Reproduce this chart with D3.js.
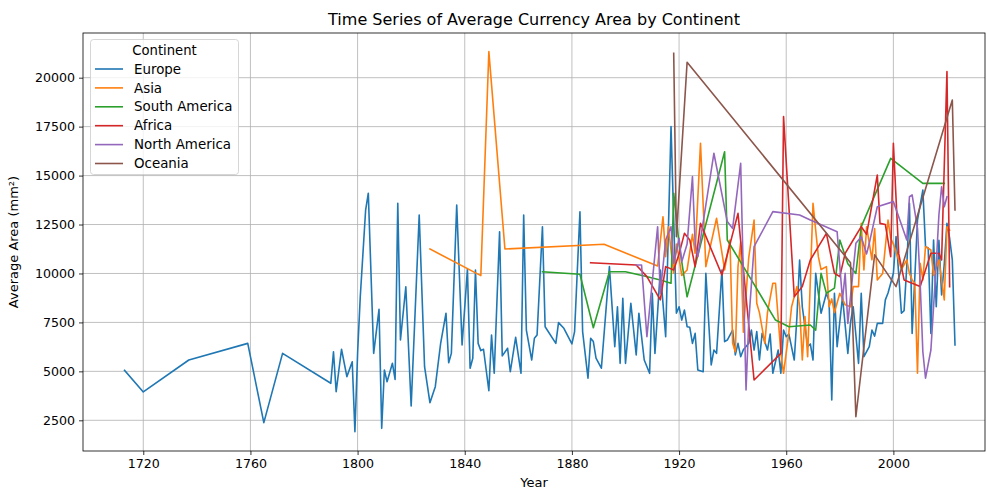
<!DOCTYPE html>
<html>
<head>
<meta charset="utf-8">
<script src="https://cdn.jsdelivr.net/npm/d3@7"></script>
<style>
  body { margin: 0; background: #ffffff; }
  svg { display: block; font-family: "DejaVu Sans", sans-serif; }
</style>
</head>
<body>
<div class="chart"></div>
<script>
/* Data, one pair of arrays per continent */
var CONTINENTS = ["Europe", "Asia", "South America", "Africa", "North America", "Oceania"];
var COLOR_TABLE = ["#1f77b4", "#ff7f0e", "#2ca02c", "#d62728", "#9467bd", "#8c564b"];

var europeYears = [1713, 1720, 1737, 1759, 1765, 1772, 1790, 1791, 1792, 1794, 1796, 1798, 1799, 1800,
  1801, 1803, 1804, 1806, 1808, 1809, 1810, 1811, 1813, 1814, 1815, 1816, 1818, 1820, 1823, 1825,
  1827, 1829, 1831, 1833, 1834, 1835, 1837, 1839, 1841, 1842, 1843, 1844, 1845, 1846, 1847, 1849,
  1850, 1851, 1853, 1854, 1856, 1857, 1859, 1861, 1862, 1863, 1865, 1866, 1867, 1869, 1870, 1874,
  1875, 1877, 1880, 1881, 1883, 1884, 1886, 1887, 1888, 1889, 1891, 1894, 1896, 1897, 1898, 1899,
  1900, 1902, 1904, 1905, 1907, 1909, 1910, 1911, 1913, 1915, 1917, 1919, 1920, 1921, 1922, 1923,
  1924, 1925, 1926, 1927, 1929, 1930, 1932, 1933, 1934, 1936, 1937, 1938, 1940, 1941, 1942, 1943,
  1944, 1946, 1947, 1948, 1949, 1950, 1951, 1953, 1954, 1955, 1957, 1958, 1959, 1960, 1961, 1963,
  1964, 1965, 1966, 1968, 1969, 1970, 1971, 1973, 1975, 1976, 1977, 1978, 1979, 1981, 1983, 1984,
  1985, 1987, 1988, 1989, 1991, 1992, 1993, 1994, 1996, 1997, 1998, 1999, 2000, 2001, 2003, 2004,
  2005, 2006, 2007, 2008, 2009, 2010, 2011, 2012, 2013, 2014, 2015, 2016, 2017, 2018, 2019, 2020,
  2021, 2022, 2023];
var europeValues = [5050, 3950, 5580, 6430, 2380, 5920, 4390, 6000, 3960, 6130, 4730, 5490, 1920, 5920,
  8810, 13240, 14100, 5920, 8170, 2090, 5070, 4470, 5410, 4590, 13580, 6600, 9320, 3230, 12990, 5240,
  3400, 4220, 6430, 7970, 5440, 5920, 13500, 6350, 10210, 5160, 5670, 10180, 6430, 6060, 6130, 4010,
  6860, 4900, 12130, 5790, 6180, 4980, 6740, 4900, 12990, 7110, 5580, 6690, 6860, 12390, 7280, 6430,
  7490, 7200, 6400, 7030, 13150, 7030, 4650, 6690, 6520, 5670, 5160, 10350, 6260, 8300, 5410, 8730,
  5410, 8480, 5840, 7970, 5580, 4900, 8990, 5920, 10180, 6770, 17500, 7970, 8300, 7620, 8130, 7280,
  7250, 6430, 6940, 5070, 4980, 10010, 5330, 6090, 5920, 10180, 6520, 6600, 7110, 5840, 6430, 5750,
  6100, 6430, 7110, 6090, 7030, 5580, 6940, 6090, 6900, 4900, 6090, 4900, 7110, 6770, 6900, 5580,
  7790, 10690, 8300, 6260, 6400, 5580, 10010, 7970, 8990, 8600, 3540, 8990, 6260, 8810, 5920, 7500,
  8300, 5410, 8990, 5750, 6260, 7110, 6800, 7450, 7450, 8650, 9000, 9500, 10010, 11880, 7970, 8100,
  10350, 13580, 6940, 9800, 12730, 13500, 14260, 11370, 11300, 6940, 11710, 8300, 11700, 8900, 10500, 12560,
  11800, 10690, 6350];

var asiaYears = [1827, 1846, 1849, 1855, 1892, 1912, 1914, 1915, 1916, 1918, 1919, 1920, 1921, 1923,
  1925, 1926, 1928, 1930, 1934, 1937, 1939, 1940, 1941, 1942, 1943, 1944, 1946, 1948, 1949, 1950,
  1952, 1953, 1955, 1956, 1958, 1959, 1961, 1962, 1964, 1965, 1966, 1967, 1968, 1970, 1972, 1973,
  1975, 1976, 1977, 1978, 1980, 1981, 1982, 1984, 1985, 1987, 1988, 1989, 1990, 1992, 1993, 1994,
  1996, 1998, 1999, 2000, 2002, 2003, 2005, 2006, 2007, 2008, 2009, 2010, 2011, 2012, 2014, 2015,
  2017, 2018, 2019, 2020, 2021];
var asiaValues = [11250, 9890, 21330, 11250, 11490, 10380, 12900, 10860, 12390, 10010, 11500, 10800, 9900, 10180,
  12000, 11030, 16650, 10350, 12820, 10180, 11710, 6430, 6000, 10350, 11600, 7000, 10800, 12730, 8480, 8000,
  6430, 8000, 9500, 9500, 5920, 4900, 7000, 8300, 9330, 8300, 5580, 7800, 5750, 13580, 10860, 10200,
  10350, 8300, 8700, 8000, 8990, 8700, 8400, 8300, 9330, 9330, 12560, 10180, 12390, 10700, 12300, 9670,
  10000, 12730, 11800, 11500, 10690, 10200, 10690, 10000, 9670, 9500, 4900, 10520, 9670, 11370, 11200, 9900,
  10690, 9670, 8650, 12390, 12220];

var southAmericaYears = [1869, 1883, 1888, 1894, 1900, 1907, 1913, 1917, 1918, 1920, 1923, 1937, 1938,
  1947, 1956, 1961, 1969, 1971, 1973, 1975, 1978, 1980, 1983, 1986, 1988, 1999, 2011, 2019];
var southAmericaValues = [10090, 9960, 7230, 10090, 10090, 9870, 9670, 9500, 14100, 11500, 8810, 16220, 11710,
  9670, 7620, 7280, 7370, 7100, 10010, 8990, 9250, 11710, 10500, 10000, 12390, 15880, 14600, 14600];

var africaYears = [1887, 1904, 1908, 1913, 1915, 1918, 1920, 1922, 1924, 1926, 1928, 1936, 1942, 1948,
  1958, 1959, 1963, 1966, 1969, 1975, 1978, 1980, 1982, 1985, 1988, 1990, 1994, 1995, 1997, 1999,
  2000, 2002, 2004, 2010, 2014, 2017, 2018, 2020, 2021];
var africaValues = [10550, 10430, 9840, 8650, 10350, 10180, 11000, 12050, 11710, 10350, 12560, 9920, 13070, 4560,
  5920, 18010, 8810, 9330, 10690, 12050, 10010, 9840, 11030, 11710, 12390, 12000, 15030, 12560, 12500, 10860,
  16650, 11000, 9670, 9330, 11030, 11030, 10690, 20310, 9330];

var northAmericaYears = [1904, 1906, 1908, 1912, 1913, 1915, 1917, 1918, 1920, 1921, 1923, 1925, 1926,
  1927, 1933, 1938, 1940, 1943, 1945, 1946, 1948, 1955, 1965, 1969, 1979, 1981, 1982, 1983, 1986,
  1988, 1990, 1991, 1994, 2000, 2003, 2005, 2006, 2007, 2009, 2010, 2011, 2012, 2014, 2016, 2017,
  2018, 2019, 2020];
var northAmericaValues = [10430, 10430, 6770, 12390, 8990, 11710, 12390, 10500, 11800, 10600, 11500, 14950, 11540,
  10860, 16140, 12650, 12300, 15630, 4050, 7500, 11370, 13160, 12990, 12730, 12130, 8650, 10010, 7450, 11540,
  11880, 11000, 11540, 13410, 13670, 12500, 11710, 13920, 14010, 12300, 9500, 6000, 4650, 6090, 10500, 13000,
  14430, 13410, 13920];

var oceaniaYears = [1918, 1919, 1923, 1984, 1986, 1993, 2001, 2022, 2023];
var oceaniaValues = [21250, 11880, 20790, 10550, 2680, 10950, 9330, 18860, 13240];

var SERIES_YEARS = [europeYears, asiaYears, southAmericaYears, africaYears, northAmericaYears, oceaniaYears];
var SERIES_VALUES = [europeValues, asiaValues, southAmericaValues, africaValues, northAmericaValues, oceaniaValues];

var X_TICKS = [1720, 1760, 1800, 1840, 1880, 1920, 1960, 2000];
var Y_TICKS = [2500, 5000, 7500, 10000, 12500, 15000, 17500, 20000];

var WIDTH = 987;
var HEIGHT = 491;
var PLOT = { left: 83, right: 985, top: 33, bottom: 451 };

function drawChart() {
  var svg = d3.select("div.chart")
              .append("svg")
              .attr("width", WIDTH)
              .attr("height", HEIGHT);

  var x = d3.scaleLinear().domain([1697.5, 2034.2]).range([PLOT.left, PLOT.right]);
  var y = d3.scaleLinear().domain([932, 22283]).range([PLOT.bottom, PLOT.top]);

  /* Grid lines first so the series sit on top */
  var grid = svg.append("g").attr("stroke", "#b0b0b0").attr("stroke-width", 0.8);
  X_TICKS.forEach(function eachX(t) {
    grid.append("line")
        .attr("x1", x(t)).attr("x2", x(t))
        .attr("y1", PLOT.top).attr("y2", PLOT.bottom);
  });
  Y_TICKS.forEach(function eachY(t) {
    grid.append("line")
        .attr("x1", PLOT.left).attr("x2", PLOT.right)
        .attr("y1", y(t)).attr("y2", y(t));
  });

  svg.append("clipPath").attr("id", "plotClip")
     .append("rect")
     .attr("x", PLOT.left).attr("y", PLOT.top)
     .attr("width", PLOT.right - PLOT.left)
     .attr("height", PLOT.bottom - PLOT.top);

  var line = d3.line()
               .x(function px(d) { return x(d[0]); })
               .y(function py(d) { return y(d[1]); });

  var lines = svg.append("g").attr("clip-path", "url(#plotClip)");
  SERIES_YEARS.forEach(function eachSeries(years, i) {
    var pts = years.map(function pair(yr, j) { return [yr, SERIES_VALUES[i][j]]; });
    lines.append("path")
         .attr("d", line(pts))
         .attr("fill", "none")
         .attr("stroke", COLOR_TABLE[i])
         .attr("stroke-width", 1.6)
         .attr("stroke-linejoin", "round")
         .attr("stroke-linecap", "square");
  });

  /* Axes */
  var xAxis = d3.axisBottom(x).tickValues(X_TICKS).tickSize(4).tickPadding(4).tickFormat(d3.format("d"));
  var yAxis = d3.axisLeft(y).tickValues(Y_TICKS).tickSize(4).tickPadding(4).tickFormat(d3.format("d"));

  var gx = svg.append("g").attr("transform", "translate(0," + PLOT.bottom + ")").call(xAxis);
  var gy = svg.append("g").attr("transform", "translate(" + PLOT.left + ",0)").call(yAxis);
  [gx, gy].forEach(function styleAxis(g) {
    g.select(".domain").remove();
    g.selectAll("text").attr("font-size", 12.6).attr("fill", "#000")
     .attr("font-family", "DejaVu Sans, sans-serif");
    g.selectAll("line").attr("stroke", "#000").attr("stroke-width", 0.8);
  });

  svg.append("rect")
     .attr("x", PLOT.left).attr("y", PLOT.top)
     .attr("width", PLOT.right - PLOT.left)
     .attr("height", PLOT.bottom - PLOT.top)
     .attr("fill", "none")
     .attr("stroke", "#000")
     .attr("stroke-width", 0.8);

  /* Titles */
  svg.append("text")
     .attr("x", (PLOT.left + PLOT.right) / 2).attr("y", 25)
     .attr("text-anchor", "middle").attr("font-size", 16)
     .text("Time Series of Average Currency Area by Continent");
  svg.append("text")
     .attr("x", (PLOT.left + PLOT.right) / 2).attr("y", 487)
     .attr("text-anchor", "middle").attr("font-size", 13)
     .text("Year");
  svg.append("text")
     .attr("transform", "translate(18," + ((PLOT.top + PLOT.bottom) / 2) + ") rotate(-90)")
     .attr("text-anchor", "middle").attr("font-size", 13)
     .text("Average Area (mm²)");

  /* Legend */
  var legend = svg.append("g");
  legend.append("rect")
        .attr("x", 90.5).attr("y", 39.5).attr("width", 148).attr("height", 135)
        .attr("rx", 3).attr("fill", "#ffffff").attr("fill-opacity", 0.8)
        .attr("stroke", "#cccccc").attr("stroke-width", 0.8);
  legend.append("text")
        .attr("x", 164.5).attr("y", 54.5)
        .attr("text-anchor", "middle").attr("font-size", 13.2)
        .text("Continent");
  CONTINENTS.forEach(function eachEntry(name, i) {
    var cy = 69 + i * 18.9;
    legend.append("line")
          .attr("x1", 95).attr("x2", 123).attr("y1", cy).attr("y2", cy)
          .attr("stroke", COLOR_TABLE[i]).attr("stroke-width", 1.6);
    legend.append("text")
          .attr("x", 134).attr("y", cy + 4.6)
          .attr("font-size", 13.4)
          .text(name);
  });
}

document.addEventListener("DOMContentLoaded", drawChart);
</script>
</body>
</html>
